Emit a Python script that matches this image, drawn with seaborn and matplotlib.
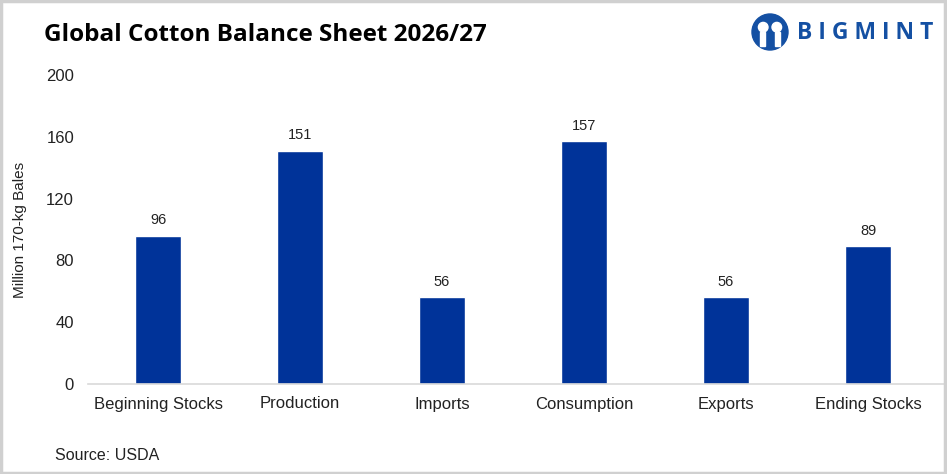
import matplotlib
matplotlib.use("Agg")
import matplotlib.pyplot as plt
import matplotlib.patches as mpatches
import seaborn as sns
import pandas as pd

# data
categories = ["Beginning Stocks", "Production", "Imports", "Consumption", "Exports", "Ending Stocks"]
values = [96, 151, 56, 157, 56, 89]

df = pd.DataFrame({"item": categories, "bales": values})

sns.set_theme(style="white")
plt.rcParams["font.family"] = ["Liberation Sans", "DejaVu Sans"]

fig = plt.figure(figsize=(9.47, 4.74), dpi=100)
ax = fig.add_axes([88 / 947, 1 - 384 / 474, (946 - 88) / 947, (384 - 75) / 474])

sns.barplot(data=df, x="item", y="bales", color="#003399", saturation=1,
            width=0.32, ax=ax)

ax.set_ylim(0, 200)
ax.set_xlim((88 - 158) / 142, (946 - 158) / 142)
ax.set_yticks([0, 40, 80, 120, 160, 200])
ax.tick_params(axis="y", length=0, pad=10, labelsize=12, labelcolor="#222222")
ax.tick_params(axis="x", length=0, pad=9, labelsize=12, labelcolor="#222222")
ax.set_xlabel("")
ax.set_ylabel("Million 170-kg Bales", fontsize=11, color="#222222", labelpad=14)
for s in ["top", "right", "left"]:
    ax.spines[s].set_visible(False)
ax.spines["bottom"].set_color("#d9d9d9")
ax.spines["bottom"].set_linewidth(1.2)

for cont in ax.containers:
    ax.bar_label(cont, fmt="%.0f", padding=6, fontsize=10.5, color="#222222")

# title and source
fig.text(44 / 947, 1 - 35 / 474, "Global Cotton Balance Sheet 2026/27",
         fontsize=17.5, fontweight="bold", family=["Open Sans", "DejaVu Sans"],
         va="center", ha="left", color="black")
fig.text(55 / 947, 1 - 455 / 474, "Source: USDA", fontsize=11.5,
         va="center", ha="left", color="#222222")

# logo
logo_ax = fig.add_axes([750 / 947, 1 - 52 / 474, 40 / 947, 40 / 474])
logo_ax.set_xlim(0, 1)
logo_ax.set_ylim(0, 1)
logo_ax.set_aspect("equal")
logo_ax.axis("off")
logo_ax.add_patch(mpatches.Circle((0.5, 0.5), 0.45, color="#1450a3"))
logo_ax.add_patch(mpatches.Circle((0.33, 0.62), 0.12, color="white"))
logo_ax.add_patch(mpatches.Circle((0.67, 0.62), 0.12, color="white"))
logo_ax.add_patch(mpatches.Rectangle((0.25, 0.15), 0.12, 0.35, color="white"))
logo_ax.add_patch(mpatches.Rectangle((0.63, 0.15), 0.12, 0.35, color="white"))
fig.text(797 / 947, 1 - 33 / 474, "B I G M I N T", fontsize=16.5, fontweight="bold",
         family=["Open Sans", "DejaVu Sans"], color="#1450a3", va="center", ha="left")

# thin grey frame around the picture
fig.patches.append(mpatches.Rectangle((0.001, 0.002), 0.997, 0.995, transform=fig.transFigure,
                                      fill=False, edgecolor="#d0d0d0", linewidth=2.5))

fig.savefig("out.png", dpi=100)
